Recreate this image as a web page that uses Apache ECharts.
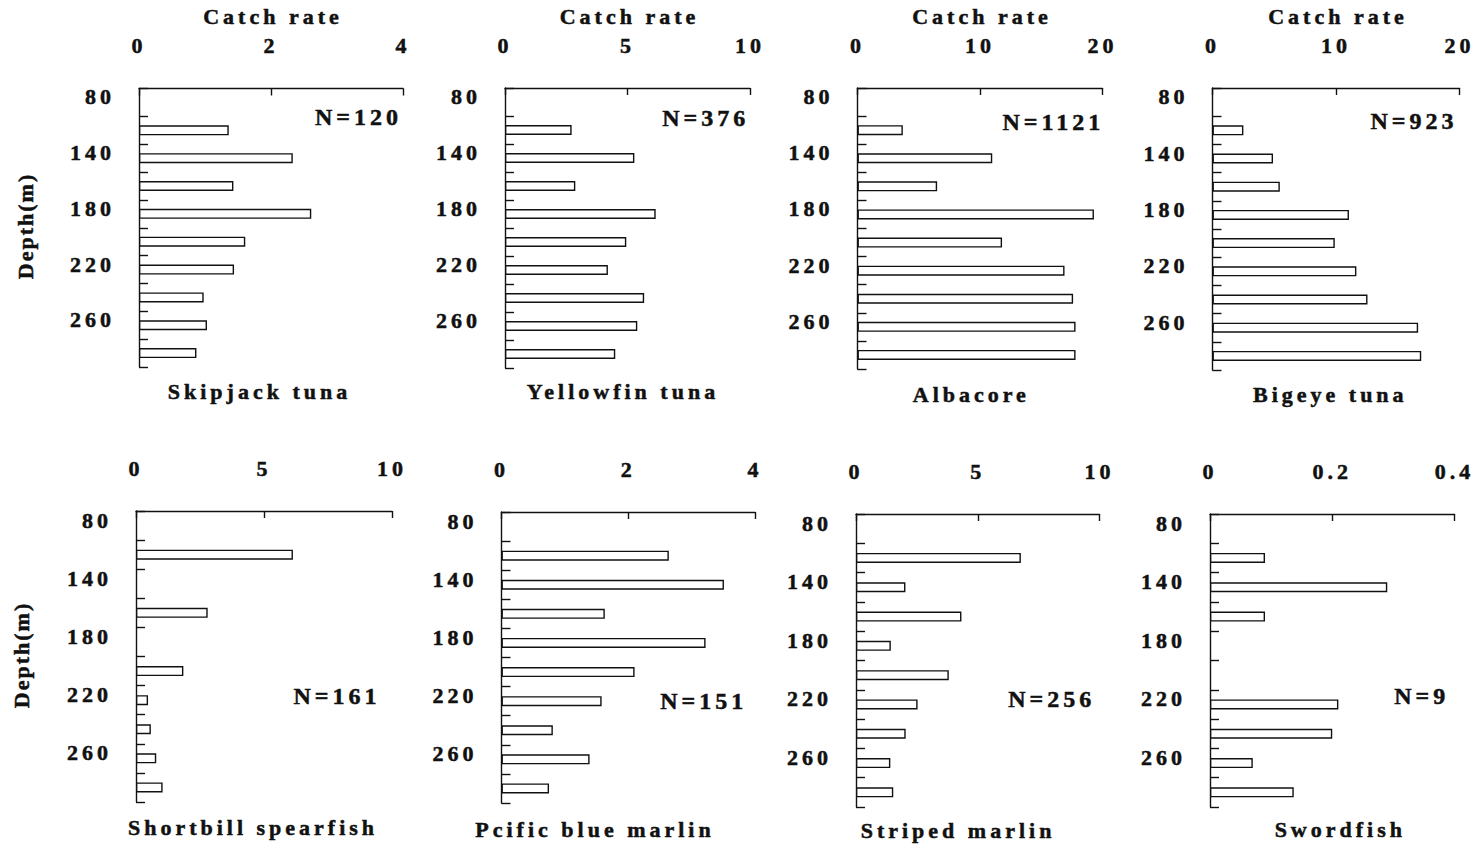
<!DOCTYPE html>
<html>
<head>
<meta charset="utf-8">
<script src="https://cdn.jsdelivr.net/npm/echarts@6/dist/echarts.min.js"></script>
<style>
  html, body { margin: 0; padding: 0; background: #fff; }
  #chart { width: 1484px; height: 846px; }
  #chart text { letter-spacing: 4px; }
</style>
</head>
<body>
<div id="chart"></div>
<script>
// ---------------- data ----------------
const depthTickLabels = ['80', '', '140', '', '180', '', '220', '', '260', ''];
const speciesNames = ['Skipjack tuna', 'Yellowfin tuna', 'Albacore', 'Bigeye tuna',
                      'Shortbill spearfish', 'Pcific blue marlin', 'Striped marlin', 'Swordfish'];
const sampleSizes = ['N=120', 'N=376', 'N=1121', 'N=923', 'N=161', 'N=151', 'N=256', 'N=9'];
const catchRateMax = [4, 10, 20, 20, 10, 4, 10, 0.4];
const catchRateStep = [2, 5, 10, 10, 5, 2, 5, 0.2];
const xAxisTitle = 'Catch rate';
const yAxisTitle = 'Depth(m)';

// catch rate per depth bin (first bin empty); null = no catch
const skipjackTuna      = [null, 1.36, 2.33, 1.43, 2.61, 1.61, 1.44, 0.98, 1.03, 0.87];
const yellowfinTuna     = [null, 2.72, 5.28, 2.87, 6.15, 4.95, 4.20, 5.68, 5.40, 4.50];
const albacore          = [null, 3.7, 11.0, 6.5, 19.3, 11.8, 16.9, 17.6, 17.8, 17.8];
const bigeyeTuna        = [null, 2.5, 4.9, 5.45, 11.05, 9.9, 11.65, 12.55, 16.65, 16.9];
const shortbillSpearfish= [null, 6.13, null, 2.80, null, 1.85, 0.47, 0.58, 0.79, 1.04];
const pacificBlueMarlin = [null, 2.64, 3.51, 1.63, 3.22, 2.10, 1.58, 0.81, 1.39, 0.75];
const stripedMarlin     = [null, 6.77, 2.03, 4.33, 1.43, 3.81, 2.53, 2.04, 1.41, 1.53];
const swordfish         = [null, 0.09, 0.29, 0.09, null, null, 0.21, 0.20, 0.07, 0.137];

const seriesValues = [skipjackTuna, yellowfinTuna, albacore, bigeyeTuna,
                      shortbillSpearfish, pacificBlueMarlin, stripedMarlin, swordfish];

// ---------------- layout (pixels) ----------------
const grids = [
  {left: 139,   top: 88.5, width: 264,   height: 278.5},
  {left: 505,   top: 88,   width: 245,   height: 280},
  {left: 857.5, top: 88,   width: 245,   height: 281},
  {left: 1212.5,top: 88,   width: 247,   height: 282},
  {left: 136,   top: 511,  width: 256,   height: 291},
  {left: 501.5, top: 512,  width: 253.5, height: 291},
  {left: 856,   top: 514,  width: 243.5, height: 293},
  {left: 1210,  top: 514,  width: 244.5, height: 293}
];
const speciesPos = [[259.5,391],[623,391],[971.3,394],[1330.3,394],[253,827.5],[595,829],[958,830.5],[1340.3,829.5]];
const nPos = [[358.5,117],[705.7,118],[1053.3,121.5],[1414,121.3],[337,696.3],[703.7,701.3],[1051.7,698.7],[1421.7,696.3]];
const depthPos = [[25,226],[21.5,655]];

const FONT = 'Liberation Serif';
const INK = '#111';

const chart = echarts.init(document.getElementById('chart'), null, {renderer: 'svg'});

const option = {
  animation: false,
  backgroundColor: '#fff',
  grid: [], xAxis: [], yAxis: [], series: [], graphic: []
};

const categoryIdx = depthTickLabels.map((_, i) => i);
const heavy = {textBorderColor: INK, textBorderWidth: 0.5};
const heavyG = {stroke: INK, lineWidth: 0.5};

grids.forEach((g, i) => {
  option.grid.push({left: g.left, top: g.top, width: g.width, height: g.height, containLabel: false});
  option.xAxis.push({
    type: 'value', gridIndex: i, position: 'top',
    min: 0, max: catchRateMax[i], interval: catchRateStep[i],
    splitLine: {show: false},
    axisLine: {show: true, lineStyle: {color: INK, width: 1.4}},
    axisTick: {show: true, inside: true, length: 7, lineStyle: {color: INK, width: 1.4}},
    axisLabel: Object.assign({show: true, margin: 32, color: INK, fontFamily: FONT, fontWeight: 'bold', fontSize: 22}, heavy)
  });
  option.yAxis.push({
    type: 'category', gridIndex: i, inverse: true, data: categoryIdx,
    axisLine: {show: true, lineStyle: {color: INK, width: 1.4}},
    axisTick: {show: true, inside: true, length: 9, interval: 0, lineStyle: {color: INK, width: 1.4}},
    axisLabel: Object.assign({
      show: true, interval: 0, margin: 24, color: INK, fontFamily: FONT, fontWeight: 'bold', fontSize: 22,
      verticalAlign: 'bottom', lineHeight: 11,
      formatter: (v, idx) => depthTickLabels[idx]
    }, heavy),
    splitLine: {show: false}
  });
  option.series.push({
    type: 'bar', xAxisIndex: i, yAxisIndex: i,
    data: seriesValues[i],
    barWidth: 10,
    itemStyle: {color: '#fff', borderColor: INK, borderWidth: 1.4},
    silent: true
  });
  option.graphic.push({
    type: 'text', x: speciesPos[i][0], y: speciesPos[i][1], silent: true,
    style: Object.assign({text: speciesNames[i], fill: INK, font: 'bold 22px ' + FONT, align: 'center', verticalAlign: 'middle'}, heavyG)
  });
  option.graphic.push({
    type: 'text', x: nPos[i][0], y: nPos[i][1], silent: true,
    style: Object.assign({text: sampleSizes[i], fill: INK, font: 'bold 24px ' + FONT, align: 'center', verticalAlign: 'middle'}, heavyG)
  });
  if (i < 4) {
    option.graphic.push({
      type: 'text', x: g.left + g.width / 2 + 2, y: 16, silent: true,
      style: Object.assign({text: xAxisTitle, fill: INK, font: 'bold 22px ' + FONT, align: 'center', verticalAlign: 'middle'}, heavyG)
    });
  }
});

depthPos.forEach(p => {
  option.graphic.push({
    type: 'text', x: p[0], y: p[1], rotation: Math.PI / 2, silent: true,
    style: Object.assign({text: yAxisTitle, fill: INK, font: 'bold 22px ' + FONT, align: 'center', verticalAlign: 'middle'}, heavyG)
  });
});

chart.setOption(option);

function tightenDepthTitle() {
  document.querySelectorAll('#chart text').forEach(t => {
    if (t.textContent === yAxisTitle) t.style.letterSpacing = '2px';
  });
}
tightenDepthTitle();
chart.on('finished', tightenDepthTitle);
setTimeout(tightenDepthTitle, 50);
</script>
</body>
</html>
